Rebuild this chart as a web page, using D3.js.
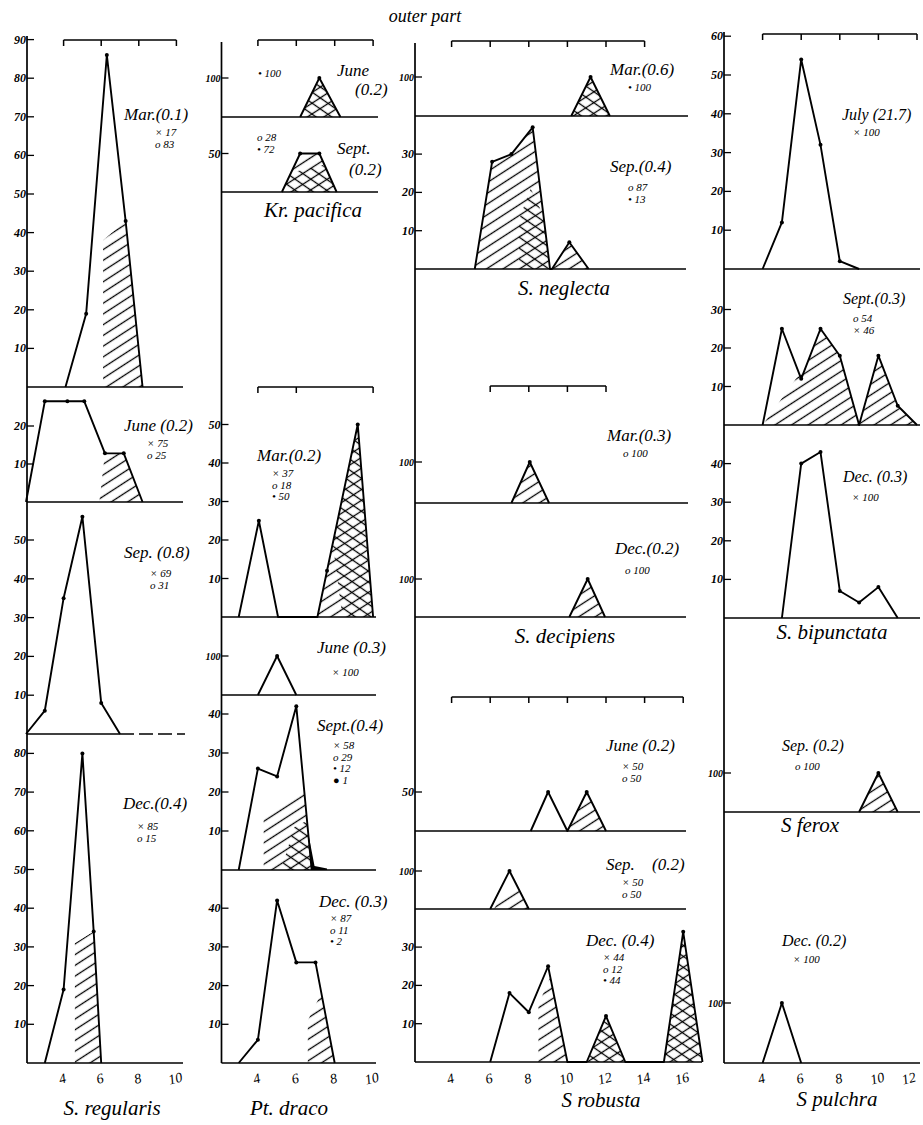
<!DOCTYPE html>
<html>
<head>
<meta charset="utf-8">
<script src="https://cdn.jsdelivr.net/npm/d3@7"></script>
<style>
  body { margin: 0; background: #fff; }
  text { font-family: "Liberation Serif", "DejaVu Serif", serif; fill: #000; }
</style>
</head>
<body>
<script>

// size class (mm) vs. % of catch
// S. regularis
var regMar = [[4.1,0],[5.2,19],[6.3,86],[7.3,43],[8.2,0]],
    regMarHatch = [[6.1,0],[6.1,38],[7.3,43],[8.2,0]],
    regJune = [[2,0],[3,26.5],[4.2,26.5],[5.1,26.5],[6.2,12.8],[7.2,12.8],[8.2,0]],
    regJuneHatch = [[5.9,0],[6.2,12.8],[7.2,12.8],[8.2,0]],
    regSep = [[2,0],[3,6],[4,35],[5,56],[6,8],[7,0]],
    regDec = [[3,0],[4,19],[5,80],[5.6,34],[6,0]],
    regDecHatch = [[4.6,0],[4.6,31],[5.6,34],[6,0]];

// Kr. pacifica
var kpJune = [[6.2,0],[7.2,100],[8.3,0]],
    kpSept = [[5.25,0],[6.2,50],[7.2,50],[8.1,0]],
    kpSeptCross = [[5.25,0],[5.7,25],[7.4,35],[8.1,0]];

// Pt. draco
var pdMar = [[3,0],[4.05,25],[5.05,0],[7.1,0],[7.6,12],[9.2,50],[10,0]],
    pdMarHatch = [[7.1,0],[7.6,12],[9.2,50],[10,0]],
    pdMarCross = [[8.4,0],[7.9,19],[9.2,50],[10,0]],
    pdJune = [[4,0],[5,100],[6,0]],
    pdSept = [[3,0],[4,26],[5,24],[6,42],[6.8,0]],
    pdSeptHatch = [[4.3,0],[4.3,14],[6.4,21],[6.8,0]],
    pdSeptCross = [[5.2,0],[5.9,11],[6.55,12.6],[6.8,0]],
    pdSeptSolid = [[6.6,10],[6.95,1],[7.6,0.4],[7.6,0],[6.8,0]],
    pdDec = [[3,0],[4,6],[5,42],[6,26],[7,26],[8,0]],
    pdDecHatch = [[6.6,0],[6.6,11],[7.3,18],[8,0]];

// S. neglecta
var negMar = [[10.2,0],[11.2,100],[12.2,0]],
    negSep = [[5.2,0],[6.1,28],[7.1,30],[8.2,37],[9.1,0],[9.2,0],[10.1,7],[11.1,0]],
    negSepHatch1 = [[5.2,0],[6.1,28],[7.1,30],[8.2,37],[9.1,0]],
    negSepHatch2 = [[9.2,0],[10.1,7],[11.1,0]],
    negSepCross = [[7.5,0],[7.5,13],[8.1,21],[8.75,14],[9.1,0]];

// S. decipiens
var decMar = [[7.1,0],[8.05,100],[9.05,0]],
    decDec = [[10.1,0],[11.05,100],[11.95,0]];

// S. robusta
var robJune = [[8.1,0],[9,50],[10,0],[11,50],[12,0]],
    robJuneHatch = [[10,0],[11,50],[12,0]],
    robSep = [[6,0],[7,100],[8,0]],
    robSepHatch = [[6.2,0],[6.5,28],[7.35,65],[8,0]],
    robDec = [[6,0],[7,18],[8,13],[9,25],[10,0],[11,0],[12,12],[13,0],[15,0],[16,34],[17,0]],
    robDecHatch = [[8.5,0],[8.5,15],[9.1,22],[10,0]],
    robDecCross1 = [[11,0],[12,12],[13,0]],
    robDecCross2 = [[15,0],[16,34],[17,0]];

// S. bipunctata, S. ferox, S. pulchra
var bipJuly = [[4,0],[5,12],[6,54],[7,32],[8,2],[9,0]],
    bipSept = [[4,0],[5,25],[6,12],[7,25],[8,18],[9,0],[10,18],[11,5],[12,0]],
    bipSeptHatch1 = [[4,0],[6.3,16],[7,25],[8,18],[9,0]],
    bipSeptHatch2 = [[9,0],[10,18],[11,5],[12,0]],
    bipDec = [[5,0],[6,40],[7,43],[8,7],[9,4],[10,8],[11,0]],
    ferSep = [[9,0],[10,100],[11,0]],
    pulDec = [[4,0],[5,100],[6,0]];

// y tick labels (%)
var t90 = [10,20,30,40,50,60,70,80,90],
    t80 = [10,20,30,40,50,60,70,80],
    t60 = [10,20,30,40,50,60],
    t50 = [10,20,30,40,50],
    t40 = [10,20,30,40],
    t30 = [10,20,30],
    t20 = [10,20],
    t100 = [100],
    t50only = [50];

// x tick labels (mm) per column, bracket ticks
var xt1 = [4,6,8,10], xt2 = [4,6,8,10], xt3 = [4,6,8,10,12,14,16], xt4 = [4,6,8,10,12];

// month labels and composition (x, o, • ...)
var regMarLab = ["Mar.(0.1)"], regMarLeg = ["× 17","o 83"],
    regJuneLab = ["June (0.2)"], regJuneLeg = ["× 75","o 25"],
    regSepLab = ["Sep. (0.8)"], regSepLeg = ["× 69","o 31"],
    regDecLab = ["Dec.(0.4)"], regDecLeg = ["× 85","o 15"],
    kpJuneLab = ["June","(0.2)"], kpJuneLeg = ["• 100"],
    kpSeptLab = ["Sept.","(0.2)"], kpSeptLeg = ["o 28","• 72"],
    pdMarLab = ["Mar.(0.2)"], pdMarLeg = ["× 37","o 18","• 50"],
    pdJuneLab = ["June (0.3)"], pdJuneLeg = ["× 100"],
    pdSeptLab = ["Sept.(0.4)"], pdSeptLeg = ["× 58","o 29","• 12","● 1"],
    pdDecLab = ["Dec. (0.3)"], pdDecLeg = ["× 87","o 11","• 2"],
    negMarLab = ["Mar.(0.6)"], negMarLeg = ["• 100"],
    negSepLab = ["Sep.(0.4)"], negSepLeg = ["o 87","• 13"],
    decMarLab = ["Mar.(0.3)"], decMarLeg = ["o 100"],
    decDecLab = ["Dec.(0.2)"], decDecLeg = ["o 100"],
    robJuneLab = ["June (0.2)"], robJuneLeg = ["× 50","o 50"],
    robSepLab = ["Sep.","(0.2)"], robSepLeg = ["× 50","o 50"],
    robDecLab = ["Dec. (0.4)"], robDecLeg = ["× 44","o 12","• 44"],
    bipJulyLab = ["July (21.7)"], bipJulyLeg = ["× 100"],
    bipSeptLab = ["Sept.(0.3)"], bipSeptLeg = ["o 54","× 46"],
    bipDecLab = ["Dec. (0.3)"], bipDecLeg = ["× 100"],
    ferSepLab = ["Sep. (0.2)"], ferSepLeg = ["o 100"],
    pulDecLab = ["Dec. (0.2)"], pulDecLeg = ["× 100"];

var species = ["S. regularis","Kr. pacifica","Pt. draco","S. neglecta","S. decipiens","S  robusta","S. bipunctata","S ferox","S pulchra"];
var title = "outer   part";

// ---------------------------------------------------------------
var width = 923, height = 1125;

var svg = d3.select("body")
    .append("svg")
    .attr("width", width)
    .attr("height", height);

svg.append("rect").attr("width", width).attr("height", height).attr("fill", "#fff");

//hatch patterns: "/" and "\"
var defs = svg.append("defs");
[["hatchA", -33], ["hatchB", 35]].forEach(function(h){
    defs.append("pattern")
        .attr("id", h[0])
        .attr("patternUnits", "userSpaceOnUse")
        .attr("width", 9).attr("height", 9)
        .attr("patternTransform", "rotate(" + h[1] + ")")
        .append("line")
        .attr("x1", -1).attr("y1", 4.5).attr("x2", 10).attr("y2", 4.5)
        .attr("stroke", "#000").attr("stroke-width", 1.3);
});

//column layout
var colAxis = [27, 221.5, 415, 724],
    colTop = [36, 42, 43, 32],
    colBottom = [1063, 1063, 1062, 1063],
    colXTicks = [xt1, xt2, xt3, xt4],
    colLabSize = [17, 17, 17, 16];
var xs = [
    d3.scaleLinear().domain([2, 10]).range([26, 176.4]),
    d3.scaleLinear().domain([2, 10]).range([219.5, 373.1]),
    d3.scaleLinear().domain([2, 16]).range([413, 683.2]),
    d3.scaleLinear().domain([2, 12]).range([724, 917])
];

var panels = [
    {c:0, base:387, k:3.86, ticks:t90, pts:regMar, hatch:[regMarHatch], cross:[], lab:regMarLab, lp:[[124,115]], leg:regMarLeg, gp:[155,132], end:183},
    {c:0, base:502, k:3.8, ticks:t20, pts:regJune, hatch:[regJuneHatch], cross:[], lab:regJuneLab, lp:[[124,426]], leg:regJuneLeg, gp:[147,443], end:183},
    {c:0, base:734, k:3.88, ticks:t50, pts:regSep, hatch:[], cross:[], lab:regSepLab, lp:[[124,553]], leg:regSepLeg, gp:[150,573], end:120, dash:185},
    {c:0, base:1063, k:3.87, ticks:t80, pts:regDec, hatch:[regDecHatch], cross:[], lab:regDecLab, lp:[[123,804]], leg:regDecLeg, gp:[137,826], end:183},

    {c:1, base:117, k:0.39, ticks:t100, pts:kpJune, hatch:[kpJune], cross:[kpJune], lab:kpJuneLab, lp:[[337,71],[355,90]], leg:kpJuneLeg, gp:[258,73], end:378},
    {c:1, base:192, k:0.77, ticks:t50only, pts:kpSept, hatch:[kpSept], cross:[kpSeptCross], lab:kpSeptLab, lp:[[337,149],[349,170]], leg:kpSeptLeg, gp:[257,137], end:378},
    {c:1, base:617, k:3.85, ticks:t50, pts:pdMar, hatch:[pdMarHatch], cross:[pdMarCross], lab:pdMarLab, lp:[[257,456]], leg:pdMarLeg, gp:[272,473], end:376},
    {c:1, base:695, k:0.39, ticks:t100, pts:pdJune, hatch:[], cross:[], lab:pdJuneLab, lp:[[317,648]], leg:pdJuneLeg, gp:[332,672], end:376},
    {c:1, base:870, k:3.9, ticks:t40, pts:pdSept, hatch:[pdSeptHatch], cross:[pdSeptCross], solid:[pdSeptSolid], lab:pdSeptLab, lp:[[317,726]], leg:pdSeptLeg, gp:[333,745], end:376},
    {c:1, base:1063, k:3.87, ticks:t40, pts:pdDec, hatch:[pdDecHatch], cross:[], lab:pdDecLab, lp:[[319,902]], leg:pdDecLeg, gp:[330,918], end:376},

    {c:2, base:116, k:0.39, ticks:t100, pts:negMar, hatch:[negMar], cross:[negMar], lab:negMarLab, lp:[[610,70]], leg:negMarLeg, gp:[628,87], end:688},
    {c:2, base:269, k:3.83, ticks:t30, pts:negSep, hatch:[negSepHatch1, negSepHatch2], cross:[negSepCross], lab:negSepLab, lp:[[610,167]], leg:negSepLeg, gp:[628,187], end:686},
    {c:2, base:503, k:0.41, ticks:t100, pts:decMar, hatch:[decMar], cross:[], lab:decMarLab, lp:[[607,436]], leg:decMarLeg, gp:[623,453], end:688},
    {c:2, base:617, k:0.38, ticks:t100, pts:decDec, hatch:[decDec], cross:[], lab:decDecLab, lp:[[615,549]], leg:decDecLeg, gp:[625,570], end:686},
    {c:2, base:831, k:0.78, ticks:t50only, pts:robJune, hatch:[robJuneHatch], cross:[], lab:robJuneLab, lp:[[606,746]], leg:robJuneLeg, gp:[622,766], end:686},
    {c:2, base:909, k:0.38, ticks:t100, pts:robSep, hatch:[robSepHatch], cross:[], lab:robSepLab, lp:[[606,865],[652,865]], leg:robSepLeg, gp:[622,882], end:686},
    {c:2, base:1062, k:3.83, ticks:t30, pts:robDec, hatch:[robDecHatch, robDecCross1, robDecCross2], cross:[robDecCross1, robDecCross2], lab:robDecLab, lp:[[586,941]], leg:robDecLeg, gp:[603,957], end:702},

    {c:3, base:269, k:3.88, ticks:t60, pts:bipJuly, hatch:[], cross:[], lab:bipJulyLab, lp:[[842,115]], leg:bipJulyLeg, gp:[853,132], end:920},
    {c:3, base:425, k:3.85, ticks:t30, pts:bipSept, hatch:[bipSeptHatch1, bipSeptHatch2], cross:[], lab:bipSeptLab, lp:[[843,299]], leg:bipSeptLeg, gp:[853,318], end:920},
    {c:3, base:618, k:3.86, ticks:t40, pts:bipDec, hatch:[], cross:[], lab:bipDecLab, lp:[[843,477]], leg:bipDecLeg, gp:[852,497], end:920},
    {c:3, base:812, k:0.39, ticks:t100, pts:ferSep, hatch:[ferSep], cross:[], lab:ferSepLab, lp:[[782,746]], leg:ferSepLeg, gp:[795,766], end:920},
    {c:3, base:1063, k:0.6, ticks:t100, pts:pulDec, hatch:[], cross:[], lab:pulDecLab, lp:[[782,941]], leg:pulDecLeg, gp:[793,959], end:920}
];

//bracket scale bars above the groups
var brackets = [
    {c:0, y:40, ticks:xt1},
    {c:1, y:40, ticks:xt2},
    {c:1, y:387, ticks:[4,6,10]},
    {c:2, y:41, ticks:[4,6,8,10,12,14]},
    {c:2, y:386, ticks:[6,8,10,12]},
    {c:2, y:697, ticks:xt3},
    {c:3, y:34, ticks:xt4}
];

var speciesPos = [[112,1108],[313,210],[289,1108],[564,288],[565,636],[601,1100],[832,632],[810,825],[837,1099]];

var marks = svg.append("g"),
    lines = svg.append("g"),
    labels = svg.append("g");

panels.forEach(function(p){
    var x = xs[p.c],
        y = d3.scaleLinear().domain([0, 100]).range([p.base, p.base - 100 * p.k]);

    var line = d3.line()
        .x(function(d){ return x(d[0]); })
        .y(function(d){ return y(d[1]); });

    //hatched parts
    p.hatch.forEach(function(poly){
        marks.append("path").attr("d", line(poly) + "Z").attr("fill", "url(#hatchA)");
    });
    p.cross.forEach(function(poly){
        marks.append("path").attr("d", line(poly) + "Z").attr("fill", "url(#hatchB)");
    });
    (p.solid || []).forEach(function(poly){
        marks.append("path").attr("d", line(poly) + "Z").attr("fill", "#000");
    });

    //frequency polygon
    lines.append("path")
        .attr("d", line(p.pts))
        .attr("fill", "none")
        .attr("stroke", "#000")
        .attr("stroke-width", 1.9)
        .attr("stroke-linejoin", "round");

    lines.selectAll(null)
        .data(p.pts.filter(function(d){ return d[1] > 0; }))
        .enter()
        .append("circle")
        .attr("cx", function(d){ return x(d[0]); })
        .attr("cy", function(d){ return y(d[1]); })
        .attr("r", 2);

    //baseline
    lines.append("line")
        .attr("x1", colAxis[p.c]).attr("x2", p.end)
        .attr("y1", p.base).attr("y2", p.base)
        .attr("stroke", "#000").attr("stroke-width", 1.6);
    if (p.dash) {
        lines.append("line")
            .attr("x1", p.end).attr("x2", p.dash)
            .attr("y1", p.base).attr("y2", p.base)
            .attr("stroke", "#000").attr("stroke-width", 1.4)
            .attr("stroke-dasharray", "14,5");
    }

    //y ticks
    p.ticks.forEach(function(t){
        lines.append("line")
            .attr("x1", colAxis[p.c]).attr("x2", colAxis[p.c] + 7)
            .attr("y1", y(t)).attr("y2", y(t))
            .attr("stroke", "#000").attr("stroke-width", 1.3);
        labels.append("text")
            .attr("x", colAxis[p.c] - 1)
            .attr("y", y(t) + 4)
            .attr("text-anchor", "end")
            .attr("font-size", t >= 100 ? 10 : 12)
            .attr("font-style", "italic")
            .attr("font-weight", "bold")
            .text(t);
    });

    //month label and composition
    p.lab.forEach(function(s, i){
        labels.append("text")
            .attr("x", p.lp[i][0]).attr("y", p.lp[i][1] + 5)
            .attr("font-size", colLabSize[p.c])
            .attr("font-style", "italic")
            .text(s);
    });
    p.leg.forEach(function(s, i){
        labels.append("text")
            .attr("x", p.gp[0]).attr("y", p.gp[1] + 4 + i * 11.5)
            .attr("font-size", 11)
            .attr("font-style", "italic")
            .text(s);
    });
});

//column axes and bottom size labels
colAxis.forEach(function(ax, c){
    lines.append("line")
        .attr("x1", ax).attr("x2", ax)
        .attr("y1", colTop[c]).attr("y2", colBottom[c])
        .attr("stroke", "#000").attr("stroke-width", 1.7);

    colXTicks[c].forEach(function(t){
        labels.append("text")
            .attr("transform", "translate(" + Math.min(xs[c](t), 910) + "," + 1083 + ") rotate(-15)")
            .attr("text-anchor", "middle")
            .attr("font-size", 14)
            .attr("font-style", "italic")
            .text(t);
    });
});

brackets.forEach(function(b){
    var x = xs[b.c],
        x0 = x(b.ticks[0]),
        x1 = x(b.ticks[b.ticks.length - 1]);
    lines.append("line")
        .attr("x1", x0).attr("x2", x1)
        .attr("y1", b.y).attr("y2", b.y)
        .attr("stroke", "#000").attr("stroke-width", 1.5);
    b.ticks.forEach(function(t){
        lines.append("line")
            .attr("x1", x(t)).attr("x2", x(t))
            .attr("y1", b.y).attr("y2", b.y + 6)
            .attr("stroke", "#000").attr("stroke-width", 1.5);
    });
});

//species names
species.forEach(function(s, i){
    labels.append("text")
        .attr("x", speciesPos[i][0]).attr("y", speciesPos[i][1] + 7)
        .attr("text-anchor", "middle")
        .attr("font-size", 21)
        .attr("font-style", "italic")
        .text(s);
});

labels.append("text")
    .attr("x", 425).attr("y", 22)
    .attr("text-anchor", "middle")
    .attr("font-size", 18)
    .attr("font-style", "italic")
    .text(title);

</script>
</body>
</html>
